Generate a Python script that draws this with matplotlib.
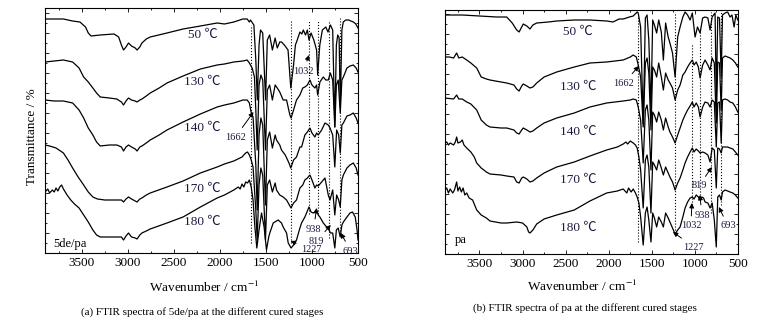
import matplotlib
matplotlib.use("Agg")
import matplotlib.pyplot as plt
from matplotlib.ticker import MultipleLocator, NullFormatter

plt.rcParams['font.family'] = ['Liberation Serif', 'Noto Sans CJK SC', 'DejaVu Sans']
plt.rcParams['mathtext.fontset'] = 'stix'

TEMPS = ["50 ℃", "130 ℃", "140 ℃", "170 ℃", "180 ℃"]
BANDS = [1662, 1227, 1032, 938, 819, 693]

# (a) 5de/pa -- (wavenumber, transmittance a.u., curves stacked)
A_50 = [(3900, 234), (3700, 234), (3600, 232), (3520, 231), (3460, 226), (3430, 220), (3400, 217),
        (3300, 218), (3150, 219), (3100, 216), (3070, 208), (3047, 203), (3020, 206), (2993, 210),
        (2960, 207), (2920, 205), (2900, 203), (2870, 206), (2847, 210), (2800, 214), (2757, 216),
        (2575, 220), (2400, 224), (2212, 227), (2030, 230), (1950, 229), (1849, 231), (1750, 234),
        (1704, 234), (1680, 231), (1668, 233), (1631, 228), (1610, 193), (1594, 153), (1575, 208),
        (1559, 223), (1535, 220), (1504, 153), (1485, 213), (1460, 218), (1430, 203), (1400, 215),
        (1377, 205), (1350, 211), (1330, 211), (1300, 208), (1260, 203), (1230, 165), (1200, 188),
        (1180, 208), (1160, 213), (1131, 221), (1110, 219), (1094, 223), (1070, 218), (1050, 223),
        (1032, 213), (1010, 220), (980, 213), (950, 203), (938, 178), (915, 208), (887, 223),
        (850, 226), (826, 221), (800, 228), (775, 223), (752, 126), (735, 208), (720, 218),
        (705, 215), (693, 146), (675, 223), (660, 231), (633, 233), (600, 233), (578, 232),
        (550, 231), (524, 229), (500, 225)]
A_130 = [(3900, 191), (3800, 192), (3700, 193), (3600, 191), (3530, 185), (3480, 176), (3430, 171),
         (3380, 165), (3340, 160), (3300, 156), (3200, 155), (3120, 154), (3070, 151), (3047, 148),
         (3020, 152), (2993, 155), (2960, 153), (2920, 152), (2900, 151), (2870, 153), (2847, 154),
         (2800, 157), (2757, 160), (2660, 165), (2575, 170), (2400, 177), (2212, 184), (2030, 188),
         (1950, 189), (1849, 191), (1750, 192), (1704, 193), (1680, 190), (1650, 185), (1625, 176),
         (1610, 143), (1595, 103), (1575, 168), (1555, 178), (1535, 173), (1505, 103), (1485, 163),
         (1460, 168), (1430, 153), (1400, 168), (1377, 165), (1350, 161), (1313, 153), (1276, 153),
         (1240, 138), (1227, 135), (1200, 143), (1168, 153), (1131, 158), (1100, 165), (1077, 166),
         (1050, 168), (1022, 173), (1000, 168), (968, 165), (950, 168), (938, 158), (914, 171),
         (877, 176), (850, 173), (823, 173), (800, 180), (775, 173), (752, 126), (735, 168),
         (715, 173), (693, 140), (675, 173), (659, 176), (620, 185), (587, 187), (551, 188),
         (520, 185), (500, 181)]
A_140 = [(3900, 153), (3800, 152), (3700, 152), (3600, 150), (3530, 143), (3480, 135), (3430, 125),
         (3380, 118), (3340, 111), (3300, 107), (3200, 108), (3120, 108), (3070, 106), (3047, 102),
         (3020, 106), (2993, 108), (2960, 106), (2920, 104), (2900, 102), (2870, 106), (2847, 107),
         (2800, 110), (2757, 113), (2660, 118), (2575, 123), (2400, 131), (2212, 139), (2030, 146),
         (1950, 148), (1849, 150), (1750, 153), (1704, 153), (1680, 150), (1662, 141), (1640, 136),
         (1610, 88), (1595, 43), (1575, 118), (1555, 135), (1535, 128), (1505, 48), (1485, 113),
         (1460, 121), (1430, 105), (1400, 118), (1385, 113), (1350, 108), (1331, 103), (1290, 98),
         (1250, 90), (1230, 85), (1200, 93), (1168, 96), (1131, 106), (1113, 106), (1077, 118),
         (1050, 121), (1022, 125), (1000, 120), (968, 116), (950, 120), (932, 118), (895, 123),
         (859, 130), (823, 128), (804, 125), (775, 118), (752, 86), (732, 123), (710, 118),
         (693, 100), (675, 128), (659, 130), (620, 137), (587, 138), (551, 140), (520, 135),
         (500, 130)]
A_170 = [(3900, 108), (3850, 107), (3780, 105), (3700, 100), (3650, 93), (3600, 85), (3540, 76),
         (3480, 68), (3430, 61), (3380, 56), (3330, 54), (3250, 53), (3150, 53), (3070, 53),
         (3047, 51), (3020, 54), (2993, 56), (2960, 54), (2920, 52), (2900, 51), (2870, 54),
         (2847, 55), (2800, 58), (2757, 60), (2575, 66), (2400, 72), (2212, 80), (2030, 86),
         (1950, 89), (1849, 92), (1760, 96), (1720, 100), (1700, 101), (1680, 98), (1660, 93),
         (1640, 86), (1610, 43), (1595, 13), (1575, 68), (1555, 85), (1535, 78), (1505, 13),
         (1485, 68), (1460, 73), (1430, 61), (1400, 70), (1385, 63), (1350, 58), (1313, 56),
         (1276, 53), (1240, 47), (1227, 45), (1200, 50), (1168, 53), (1131, 65), (1100, 68),
         (1077, 73), (1050, 75), (1022, 78), (1000, 73), (968, 65), (950, 68), (932, 67),
         (895, 71), (859, 75), (823, 58), (804, 53), (775, 63), (752, 38), (732, 58), (710, 53),
         (693, 46), (675, 73), (659, 78), (620, 85), (587, 88), (551, 90), (520, 85), (500, 78)]
A_180 = [(3900, 61), (3870, 64), (3850, 60), (3820, 63), (3800, 61), (3780, 65), (3760, 62),
         (3740, 66), (3720, 68), (3700, 64), (3680, 61), (3660, 58), (3620, 53), (3580, 49),
         (3530, 45), (3480, 38), (3430, 31), (3380, 23), (3340, 18), (3300, 16), (3200, 16),
         (3120, 16), (3070, 16), (3047, 13), (3020, 17), (2993, 20), (2960, 16), (2920, 15),
         (2900, 14), (2870, 18), (2847, 20), (2800, 22), (2757, 24), (2575, 30), (2400, 36),
         (2212, 46), (2030, 55), (1950, 58), (1849, 63), (1800, 66), (1780, 64), (1760, 69),
         (1740, 66), (1720, 71), (1700, 70), (1680, 73), (1660, 66), (1640, 53), (1620, 26),
         (1599, 5), (1575, 23), (1548, 40), (1520, 26), (1494, 3), (1470, 16), (1458, 20),
         (1421, 30), (1385, 32), (1367, 33), (1331, 30), (1313, 26), (1276, 20), (1258, 10),
         (1227, 5), (1200, 8), (1168, 13), (1131, 25), (1113, 30), (1077, 36), (1059, 40),
         (1032, 46), (1010, 41), (986, 40), (968, 41), (950, 43), (932, 38), (914, 36),
         (877, 30), (850, 27), (823, 25), (800, 20), (775, 20), (752, 5), (735, 23), (715, 25),
         (693, 16), (675, 28), (659, 31), (620, 36), (587, 40), (560, 41), (530, 36), (510, 23),
         (500, 13)]

# (b) pa
B_50 = [(3900, 239), (3700, 239), (3500, 238), (3300, 237), (3184, 237), (3120, 231), (3068, 224),
        (3040, 222), (3010, 227), (2992, 230), (2950, 228), (2914, 225), (2880, 229), (2836, 231),
        (2700, 232), (2604, 233), (2400, 234), (2218, 234), (2024, 233), (1950, 232), (1880, 235),
        (1832, 235), (1760, 237), (1716, 238), (1670, 242), (1658, 241), (1630, 227), (1600, 130),
        (1575, 236), (1555, 239), (1535, 214), (1510, 144), (1490, 234), (1470, 229), (1444, 221),
        (1420, 234), (1390, 222), (1366, 194), (1340, 231), (1310, 217), (1290, 211), (1260, 201),
        (1230, 177), (1200, 217), (1172, 227), (1140, 237), (1114, 242), (1085, 239), (1056, 234),
        (1030, 241), (998, 217), (970, 227), (940, 221), (910, 236), (882, 237), (850, 236),
        (824, 224), (800, 237), (766, 241), (752, 154), (735, 237), (715, 236), (695, 177),
        (680, 239), (650, 241), (620, 242), (592, 237), (570, 239), (545, 227), (525, 239),
        (503, 234)]
B_130 = [(3900, 197), (3850, 197), (3800, 196), (3765, 201), (3740, 196), (3700, 197), (3648, 194),
         (3600, 191), (3532, 186), (3480, 177), (3420, 175), (3378, 174), (3250, 172), (3184, 171),
         (3100, 169), (3068, 165), (3040, 163), (3010, 168), (2992, 170), (2950, 168), (2914, 166),
         (2880, 167), (2836, 171), (2750, 177), (2604, 182), (2400, 187), (2218, 191), (2024, 192),
         (1832, 194), (1750, 197), (1716, 199), (1680, 197), (1658, 189), (1630, 177), (1600, 127),
         (1575, 191), (1555, 196), (1535, 181), (1510, 124), (1490, 187), (1470, 184), (1444, 177),
         (1420, 191), (1390, 177), (1366, 164), (1340, 181), (1310, 174), (1290, 171), (1260, 166),
         (1230, 154), (1200, 164), (1172, 169), (1140, 179), (1114, 182), (1085, 187), (1056, 191),
         (1030, 194), (1010, 189), (985, 192), (960, 187), (940, 176), (910, 189), (882, 194),
         (850, 189), (824, 184), (800, 196), (775, 191), (752, 131), (735, 192), (715, 191),
         (695, 144), (680, 196), (650, 198), (620, 197), (592, 196), (560, 194), (530, 191),
         (503, 187)]
B_140 = [(3900, 156), (3800, 155), (3765, 159), (3740, 155), (3700, 155), (3648, 152), (3600, 150),
         (3532, 144), (3480, 134), (3420, 129), (3378, 127), (3250, 126), (3184, 126), (3100, 124),
         (3068, 121), (3040, 120), (3010, 124), (2992, 126), (2950, 124), (2914, 122), (2880, 123),
         (2836, 126), (2750, 131), (2604, 136), (2400, 141), (2218, 147), (2024, 151), (1832, 153),
         (1750, 154), (1716, 155), (1680, 154), (1658, 147), (1630, 134), (1600, 91), (1575, 144),
         (1555, 149), (1535, 134), (1510, 84), (1490, 142), (1470, 139), (1444, 132), (1420, 142),
         (1390, 134), (1366, 124), (1340, 136), (1310, 127), (1290, 122), (1260, 117), (1230, 111),
         (1200, 119), (1172, 126), (1140, 134), (1114, 139), (1085, 144), (1056, 148), (1030, 152),
         (1010, 147), (985, 151), (960, 147), (940, 137), (910, 147), (882, 152), (850, 151),
         (824, 147), (800, 154), (775, 152), (752, 107), (735, 151), (715, 152), (695, 111),
         (680, 154), (650, 155), (620, 154), (592, 152), (560, 151), (530, 147), (503, 142)]
B_170 = [(3900, 111), (3880, 112), (3860, 109), (3840, 111), (3800, 109), (3780, 112), (3765, 117),
         (3750, 111), (3720, 112), (3700, 114), (3680, 109), (3648, 106), (3600, 102), (3560, 97),
         (3532, 91), (3480, 86), (3420, 82), (3378, 80), (3250, 79), (3184, 78), (3100, 77),
         (3068, 72), (3040, 71), (3010, 76), (2992, 77), (2950, 75), (2914, 72), (2880, 73),
         (2836, 76), (2750, 81), (2604, 87), (2400, 92), (2218, 98), (2024, 104), (1900, 107),
         (1832, 110), (1800, 112), (1780, 110), (1750, 113), (1716, 111), (1690, 109), (1670, 106),
         (1650, 97), (1630, 84), (1600, 46), (1575, 94), (1555, 99), (1535, 87), (1510, 41),
         (1490, 92), (1470, 89), (1444, 84), (1420, 94), (1390, 86), (1366, 79), (1340, 87),
         (1310, 81), (1290, 77), (1260, 72), (1230, 64), (1200, 71), (1172, 76), (1140, 84),
         (1114, 91), (1085, 97), (1056, 102), (1030, 106), (1010, 102), (985, 105), (960, 103),
         (940, 101), (910, 102), (882, 101), (850, 99), (824, 92), (800, 106), (775, 104),
         (752, 66), (735, 106), (715, 105), (695, 101), (680, 107), (650, 107), (620, 107),
         (592, 106), (560, 105), (530, 102), (503, 99)]
B_180 = [(3900, 64), (3880, 66), (3860, 61), (3840, 65), (3810, 61), (3790, 64), (3765, 72),
         (3750, 63), (3730, 67), (3710, 62), (3690, 66), (3670, 59), (3648, 61), (3620, 56),
         (3580, 54), (3532, 44), (3480, 39), (3420, 36), (3378, 33), (3250, 31), (3184, 31),
         (3068, 32), (3000, 31), (2950, 27), (2930, 22), (2914, 21), (2880, 24), (2836, 30),
         (2750, 35), (2604, 39), (2400, 44), (2218, 53), (2024, 61), (1900, 63), (1832, 65),
         (1790, 61), (1770, 66), (1740, 62), (1716, 65), (1690, 61), (1670, 57), (1650, 51),
         (1630, 37), (1600, 9), (1575, 41), (1555, 47), (1535, 34), (1510, 12), (1490, 41),
         (1470, 36), (1444, 27), (1420, 37), (1390, 32), (1366, 27), (1340, 41), (1310, 36),
         (1290, 32), (1260, 26), (1230, 20), (1200, 24), (1172, 27), (1140, 37), (1114, 46),
         (1085, 52), (1056, 56), (1030, 57), (1010, 55), (985, 59), (960, 57), (940, 54),
         (920, 57), (900, 56), (882, 52), (850, 51), (824, 46), (800, 51), (775, 34), (752, 7),
         (735, 57), (715, 59), (695, 54), (680, 62), (650, 64), (620, 63), (592, 62), (560, 61),
         (530, 59), (503, 56)]

INK = '#1a1a40'


def draw_panel(ax, curves, top):
    for c in curves:
        wn = [p[0] for p in c]
        tr = [p[1] for p in c]
        ax.plot(wn, tr, color='k', lw=0.9)
    ax.set_xlim(3900, 500)
    ax.set_ylim(0, top)
    ax.xaxis.set_major_locator(MultipleLocator(500))
    ax.xaxis.set_minor_locator(MultipleLocator(250))
    ax.yaxis.set_major_locator(MultipleLocator(20))
    ax.yaxis.set_minor_locator(MultipleLocator(10))
    ax.yaxis.set_major_formatter(NullFormatter())
    ax.tick_params(which='both', direction='in', top=True, right=True, labelsize=9.5, pad=3)
    ax.tick_params(which='major', length=3, width=0.6)
    ax.tick_params(which='minor', length=1.5, width=0.6)
    for s in ax.spines.values():
        s.set_linewidth(0.8)


def arrow(ax, txt, xy, xytext):
    ax.annotate(txt, xy=xy, xytext=xytext, fontsize=7.5, color=INK, ha='center', va='center',
                arrowprops=dict(arrowstyle='-|>', color='k', lw=0.7, mutation_scale=7,
                                shrinkA=2, shrinkB=0))


fig = plt.figure(figsize=(7.77, 3.23), dpi=100)
ax1 = fig.add_axes([45 / 777, 70 / 323, 313 / 777, 245 / 323])
ax2 = fig.add_axes([445 / 777, 69 / 323, 293 / 777, 244 / 323])

draw_panel(ax1, [A_50, A_130, A_140, A_170, A_180], 245)
draw_panel(ax2, [B_50, B_130, B_140, B_170, B_180], 244)

# dotted band markers
for b, lo, hi in zip(BANDS, [0.04, 0.04, 0.16, 0.16, 0.06, 0.09], [0.93, 0.95, 0.95, 0.95, 0.95, 0.96]):
    ax1.axvline(b, ymin=lo, ymax=hi, color='k', ls=':', lw=0.8)
for b, lo, hi in zip(BANDS, [0.05, 0.1, 0.2, 0.24, 0.17, 0.2], [0.97, 0.99, 0.86, 0.93, 0.99, 1.0]):
    ax2.axvline(b, ymin=lo, ymax=hi, color='k', ls=':', lw=0.8)

for lab, y in zip(TEMPS, [218, 171, 125, 64, 31]):
    ax1.text(2190, y, lab, fontsize=9.5, color=INK, ha='center', va='center')
for lab, y in zip(TEMPS, [222, 167, 122, 74, 26]):
    ax2.text(2357, y, lab, fontsize=9.5, color=INK, ha='center', va='center')

ax1.text(3813, 9, "5de/pa", fontsize=9, color='k', ha='left', va='center')
ax2.text(3784, 14, "pa", fontsize=9, color='k', ha='left', va='center')

arrow(ax1, "1032", (1033, 198), (1090, 182))
arrow(ax1, "1662", (1635, 141), (1831, 116))
arrow(ax1, "938", (950, 45), (981, 24))
arrow(ax1, "819", (796, 28), (949, 12))
arrow(ax1, "1227", (1232, 12), (1003, 3))
arrow(ax1, "693", (687, 20), (579, 2))

arrow(ax2, "1662", (1650, 188), (1824, 171))
arrow(ax2, "819", (803, 87), (954, 68))
arrow(ax2, "938", (942, 59), (919, 39))
arrow(ax2, "1032", (1035, 51), (1046, 28))
arrow(ax2, "693", (722, 47), (617, 28))
arrow(ax2, "1227", (1255, 22), (1012, 7))

fig.text(0.041, 0.576, "Transmittance / %", rotation=90, fontsize=9.5, ha='center', va='center')
fig.text(0.2625, 0.111, "Wavenumber / cm$^{-1}$", fontsize=9.5, ha='center', va='center')
fig.text(0.7497, 0.114, "Wavenumber / cm$^{-1}$", fontsize=9.5, ha='center', va='center')
fig.text(0.26, 0.035, "(a) FTIR spectra of 5de/pa at the different cured stages", fontsize=8,
         ha='center', va='center')
fig.text(0.753, 0.045, "(b) FTIR spectra of pa at the different cured stages", fontsize=8,
         ha='center', va='center')

fig.savefig("out.png", dpi=100)
